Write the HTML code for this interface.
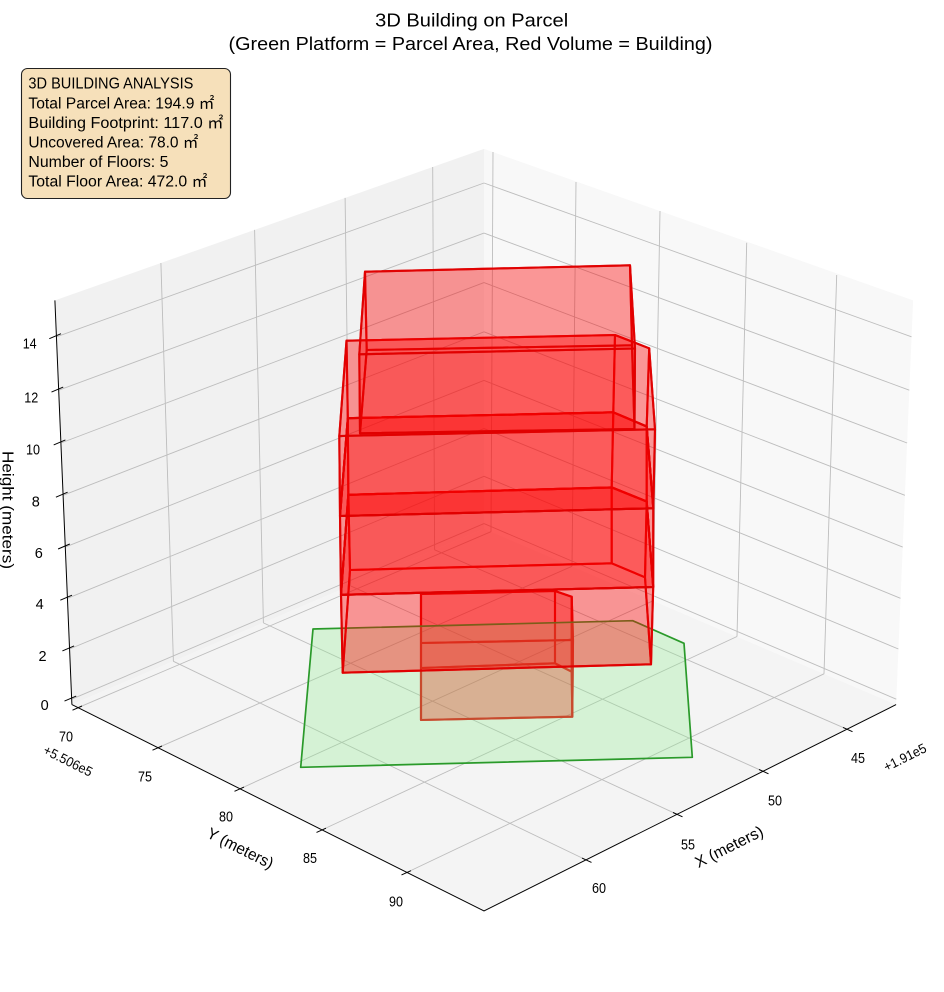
<!DOCTYPE html>
<html>
<head>
<meta charset="utf-8">
<style>
  html, body { margin: 0; padding: 0; background: #ffffff; }
  svg { display: block; }
  text { font-family: "Liberation Sans", "Noto Sans CJK JP", sans-serif; fill: #000; }
  .grid { stroke: #bdbdbd; stroke-width: 0.9; fill: none; }
  .ax { stroke: #000; stroke-width: 1; fill: none; }
  .tk { stroke: #000; stroke-width: 1; fill: none; }
  .f { fill: #ff0000; fill-opacity: 0.22; stroke: #e00000; stroke-opacity: 0.9; stroke-width: 2.1; stroke-linejoin: round; }
  .parcel { fill: #90ee90; fill-opacity: 0.31; stroke: #2a9a2a; stroke-width: 1.7; stroke-linejoin: round; }
</style>
</head>
<body>
<svg width="944" height="992" viewBox="0 0 944 992" xmlns="http://www.w3.org/2000/svg">
  <rect x="0" y="0" width="944" height="992" fill="#ffffff"/>

  <!-- panes -->
  <polygon points="71.9,704.6 54.9,300.4 484,148.9 484,528.7" fill="#f1f1f1"/>
  <polygon points="484,148.9 913.1,300.4 896.1,704.6 484,528.7" fill="#f8f8f8"/>
  <polygon points="71.9,704.6 484,528.7 896.1,704.6 484,911" fill="#f4f4f4"/>

  <!-- grid lines -->
  <path class="grid" d="
    M71.7,699.2 L484,523.6
    M69.6,649 L484,476.3
    M67.5,598.3 L484,428.6
    M65.3,547.1 L484,380.4
    M63.1,495.3 L484,331.8
    M60.9,443 L484,282.6
    M58.7,390.2 L484,233.1
    M56.5,336.8 L484,183
    M434.6,549.8 L432.7,167
    M350.4,585.8 L345.1,197.9
    M263.4,622.9 L254.6,229.9
    M173.4,661.3 L160.9,263
    M484,523.6 L896.3,699.2
    M484,476.3 L898.4,649
    M484,428.6 L900.5,598.3
    M484,380.4 L902.7,547.1
    M484,331.8 L904.9,495.3
    M484,282.6 L907.1,443
    M484,233.1 L909.3,390.2
    M484,183 L911.5,336.8
    M491,531.7 L493,152
    M572,566.3 L576,182
    M653,600.8 L660,211
    M737,636.5 L746.7,242.7
    M824,673.8 L836.7,275
    M434.6,549.8 L847,729.2
    M350.4,585.8 L763,771.3
    M263.4,622.9 L677,814.3
    M173.4,661.3 L586,859.9
    M491,531.7 L78,707.7
    M572,566.3 L158,747.7
    M653,600.8 L240,788.8
    M737,636.5 L322,829.9
    M824,673.8 L407,872.4
  "/>

  <!-- axis lines -->
  <path class="ax" d="M54.9,300.4 L71.9,704.6 M71.9,704.6 L484,911 L896.1,704.6"/>

  <!-- z ticks -->
  <path class="tk" d="
    M64.5,701.1 L76.2,696.1
    M62.4,650.9 L74.1,645.9
    M60.3,600.2 L72,595.2
    M58.1,549 L69.8,544
    M55.9,497.2 L67.6,492.2
    M53.7,444.9 L65.4,439.9
    M51.5,392.1 L63.2,387.1
    M49.3,338.7 L61,333.7
  "/>
  <!-- y ticks -->
  <path class="tk" d="
    M72.5,710.2 L82,706
    M152.5,750.2 L162,746
    M234.5,791.3 L244,787.1
    M316.5,832.4 L326,828.2
    M401.5,874.9 L411,870.7
  "/>
  <!-- x ticks -->
  <path class="tk" d="
    M843,727.4 L852.5,731.7
    M759,769.5 L768.5,773.8
    M673,812.5 L682.5,816.8
    M582,858.1 L591.5,862.4
  "/>

  <!-- z tick labels -->
  <g font-size="14.5" text-anchor="middle">
    <text x="44.7" y="710">0</text>
    <text x="42.5" y="660.8">2</text>
    <text x="39.7" y="608.8">4</text>
    <text x="38.8" y="558">6</text>
    <text x="35.8" y="506.6">8</text>
    <text x="33" y="454.6" textLength="14" lengthAdjust="spacingAndGlyphs">10</text>
    <text x="31.3" y="402.3" textLength="14" lengthAdjust="spacingAndGlyphs">12</text>
    <text x="29.7" y="348.3" textLength="14" lengthAdjust="spacingAndGlyphs">14</text>
  </g>
  <!-- y tick labels -->
  <g font-size="14.5" text-anchor="middle">
    <text x="66" y="741.3" textLength="14" lengthAdjust="spacingAndGlyphs">70</text>
    <text x="145" y="781.3" textLength="14" lengthAdjust="spacingAndGlyphs">75</text>
    <text x="226" y="821.3" textLength="14" lengthAdjust="spacingAndGlyphs">80</text>
    <text x="310" y="862.8" textLength="14" lengthAdjust="spacingAndGlyphs">85</text>
    <text x="396" y="906.3" textLength="14" lengthAdjust="spacingAndGlyphs">90</text>
  </g>
  <!-- x tick labels -->
  <g font-size="14.5" text-anchor="middle">
    <text x="858" y="762.8" textLength="14" lengthAdjust="spacingAndGlyphs">45</text>
    <text x="775" y="805.3" textLength="14" lengthAdjust="spacingAndGlyphs">50</text>
    <text x="688" y="849.3" textLength="14" lengthAdjust="spacingAndGlyphs">55</text>
    <text x="599" y="892.8" textLength="14" lengthAdjust="spacingAndGlyphs">60</text>
  </g>

  <!-- offset texts -->
  <text transform="translate(68,761) rotate(26.6)" font-size="13.5" text-anchor="middle" dominant-baseline="central" textLength="53" lengthAdjust="spacingAndGlyphs">+5.506e5</text>
  <text transform="translate(905,757.5) rotate(-26.6)" font-size="13.5" text-anchor="middle" dominant-baseline="central" textLength="46" lengthAdjust="spacingAndGlyphs">+1.91e5</text>

  <!-- axis labels -->
  <text transform="translate(240,849) rotate(26.6)" font-size="16" text-anchor="middle" dominant-baseline="central" textLength="72" lengthAdjust="spacingAndGlyphs">Y (meters)</text>
  <text transform="translate(729.5,847.5) rotate(-26.6)" font-size="16" text-anchor="middle" dominant-baseline="central" textLength="74" lengthAdjust="spacingAndGlyphs">X (meters)</text>
  <text transform="rotate(90,2.5,510)" x="2.5" y="510" font-size="16" text-anchor="middle" textLength="118" lengthAdjust="spacingAndGlyphs">Height (meters)</text>

  <!-- annex (drawn before parcel) -->
  <polygon class="f" points="421,720 572.3,716.7 571.7,671.7 555,663.3 421,668"/>
  <polygon class="f" points="555,663.3 421,668 421,594 555,591"/>
  <polygon class="f" points="571.7,671.7 555,663.3 555,591 571.7,596.7"/>
  <polygon class="f" points="421,668 421,720 421,643 421,594"/>
  <polygon class="f" points="572.3,716.7 571.7,671.7 571.7,596.7 573,640"/>
  <polygon class="f" points="421,720 572.3,716.7 573,640 421,643"/>
  <polygon class="f" points="421,643 573,640 571.7,596.7 555,591 421,594"/>

  <!-- parcel -->
  <polygon class="parcel" points="313,629 632.7,620.7 684,643.3 692.3,757.3 300.7,767.3"/>

  <!-- box 1 -->
  <polygon class="f" points="342.7,672.7 651,664.3 645,577.3 611.7,563.3 350,570"/>
  <polygon class="f" points="611.7,563.3 350,570 348.3,494.8 611.7,487.4"/>
  <polygon class="f" points="645,577.3 611.7,563.3 611.7,487.4 646.7,501.5"/>
  <polygon class="f" points="350,570 342.7,672.7 341,594.8 348.3,494.8"/>
  <polygon class="f" points="651,664.3 645,577.3 646.7,501.5 653.2,587"/>
  <polygon class="f" points="342.7,672.7 651,664.3 653.2,587 341,594.8"/>
  <polygon class="f" points="341,594.8 653.2,587 646.7,501.5 611.7,487.4 348.3,494.8"/>

  <!-- box 2 -->
  <polygon class="f" points="341,594.8 653.2,587 646.7,501.5 611.7,487.4 348.3,494.8"/>
  <polygon class="f" points="611.7,487.4 348.3,494.8 347.8,418.2 613.3,412.3"/>
  <polygon class="f" points="646.7,501.5 611.7,487.4 613.3,412.3 646.7,426.5"/>
  <polygon class="f" points="348.3,494.8 341,594.8 340,516 347.8,418.2"/>
  <polygon class="f" points="653.2,587 646.7,501.5 646.7,426.5 653.3,508.3"/>
  <polygon class="f" points="341,594.8 653.2,587 653.3,508.3 340,516"/>
  <polygon class="f" points="340,516 653.3,508.3 646.7,426.5 613.3,412.3 347.8,418.2"/>

  <!-- box 3 -->
  <polygon class="f" points="340,516 653.3,508.3 646.7,426.5 613.3,412.3 347.8,418.2"/>
  <polygon class="f" points="613.3,412.3 347.8,418.2 346.5,340.7 615,335"/>
  <polygon class="f" points="646.7,426.5 613.3,412.3 615,335 649.2,348.3"/>
  <polygon class="f" points="347.8,418.2 340,516 339.3,436 346.5,340.7"/>
  <polygon class="f" points="653.3,508.3 646.7,426.5 649.2,348.3 655,429.3"/>
  <polygon class="f" points="340,516 653.3,508.3 655,429.3 339.3,436"/>
  <polygon class="f" points="339.3,436 655,429.3 649.2,348.3 615,335 346.5,340.7"/>

  <!-- box 4 -->
  <polygon class="f" points="360,433.3 634.5,429 632,345.3 366.7,350"/>
  <polygon class="f" points="632,345.3 366.7,350 365,271.7 630,265.3"/>
  <polygon class="f" points="366.7,350 360,433.3 359.3,354.3 365,271.7"/>
  <polygon class="f" points="634.5,429 632,345.3 630,265.3 635,348.5"/>
  <polygon class="f" points="360,433.3 634.5,429 635,348.5 359.3,354.3"/>
  <polygon class="f" points="359.3,354.3 635,348.5 630,265.3 365,271.7"/>

  <!-- title -->
  <text x="471.7" y="26.5" font-size="18.5" text-anchor="middle" textLength="193" lengthAdjust="spacingAndGlyphs">3D Building on Parcel</text>
  <text x="470.5" y="50" font-size="18.5" text-anchor="middle" textLength="484" lengthAdjust="spacingAndGlyphs">(Green Platform = Parcel Area, Red Volume = Building)</text>

  <!-- info box -->
  <rect x="21.5" y="68.5" width="209" height="130" rx="6" ry="6" fill="#f6e0ba" stroke="#222" stroke-width="1.1"/>
  <g font-size="15.5">
    <text x="28.4" y="88.7" textLength="165" lengthAdjust="spacingAndGlyphs">3D BUILDING ANALYSIS</text>
    <text x="28.4" y="108.3" textLength="186" lengthAdjust="spacingAndGlyphs">Total Parcel Area: 194.9 ㎡</text>
    <text x="28.4" y="127.9" textLength="195" lengthAdjust="spacingAndGlyphs">Building Footprint: 117.0 ㎡</text>
    <text x="28.4" y="147.5" textLength="170" lengthAdjust="spacingAndGlyphs">Uncovered Area: 78.0 ㎡</text>
    <text x="28.4" y="167.1" textLength="140" lengthAdjust="spacingAndGlyphs">Number of Floors: 5</text>
    <text x="28.4" y="186.7" textLength="179" lengthAdjust="spacingAndGlyphs">Total Floor Area: 472.0 ㎡</text>
  </g>
</svg>
</body>
</html>
